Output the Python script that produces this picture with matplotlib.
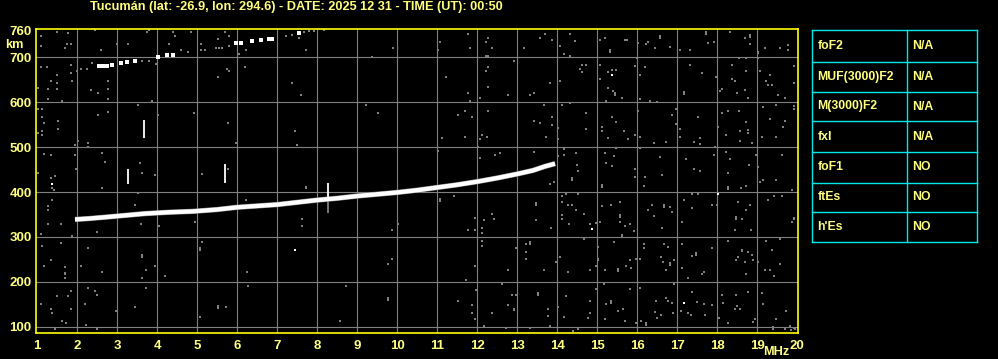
import matplotlib
matplotlib.use("Agg")
import matplotlib.pyplot as plt
import numpy as np

# ---------------- data ----------------
title = "Tucumán (lat: -26.9, lon: 294.6) - DATE: 2025 12 31 - TIME (UT): 00:50"
x_ticks = list(range(1, 21))
y_ticks = [100, 200, 300, 400, 500, 600, 700, 760]

# main F-layer trace (MHz, km)
trace_f = [1.95, 2.3, 2.7, 3.2, 3.7, 4.3, 4.9, 5.5, 6.0, 6.5, 7.0, 7.5, 8.0, 8.5,
           9.0, 9.5, 10.0, 10.5, 11.0, 11.5, 12.0, 12.5, 13.0, 13.4, 13.7, 13.95]
trace_km = [339, 341, 344, 348, 352, 355, 357, 361, 366, 369, 372, 377, 382, 386,
            391, 395, 399, 404, 410, 416, 423, 431, 440, 448, 457, 463]

# second-hop trace (MHz, km)
hop2_f = [2.55, 2.65, 2.75, 2.88, 3.1, 3.25, 3.45, 4.02, 4.25, 4.4, 5.98, 6.1,
          6.38, 6.6, 6.8, 6.88, 7.55]
hop2_km = [679, 679, 680, 683, 687, 689, 691, 699, 705, 705, 731, 732, 736, 738,
           741, 741, 753]

# vertical white streaks: freq, km_low, km_high
streak_f = [3.28, 3.68, 5.69, 8.28]
streak_lo = [417, 521, 421, 385]
streak_hi = [452, 560, 462, 419]
# gray tail of streak at 8.28
gtail_f = [8.28]
gtail_lo = [354]
gtail_hi = [385]

# isolated white echoes
white_f = [7.44, 14.88, 18.02, 17.17, 15.38, 1.38]
white_km = [270, 318, 395, 154, 660, 418]

# gray noise echoes (MHz, km)
noise = [
 (1.09,747),(1.49,756),(1.78,753),(1.09,725),(1.74,729),(1.84,729),(1.69,720),(2.45,761),
 (2.59,716),(2.99,729),(3.28,729),(3.74,756),(3.80,761),(4.40,756),(4.45,747),(4.84,756),
 (4.30,729),(4.59,716),(4.78,712),(5.09,729),(5.09,716),(5.20,716),(5.53,741),(5.69,756),
 (5.80,747),(5.47,721),(5.55,721),(5.63,721),(5.80,725),(6.05,706),(6.23,716),(7.22,747),(7.38,749),
 (7.55,743),(7.73,716),(7.67,755),(7.80,758),(7.92,758),(8.17,761),(9.38,701),(9.90,721),
 (1.09,678),(1.26,678),(1.84,683),(2.01,669),(2.09,673),(2.24,673),(2.38,686),(1.49,661),
 (1.84,664),(1.34,646),(1.49,642),(1.88,646),(1.03,631),(1.28,629),(1.49,629),(2.34,627),
 (2.53,620),(2.78,646),(2.78,629),(2.78,606),(1.28,606),(1.63,603),(3.88,603),(3.97,684),
 (3.63,692),(3.80,692),(5.76,673),(5.80,668),(6.19,678),(5.53,655),(7.38,642),(7.59,615),
 (1.03,584),(1.13,584),(1.13,566),(1.18,553),(1.53,558),(1.53,540),(1.13,536),(1.13,526),
 (1.03,532),(2.53,571),(2.78,578),(3.53,593),(4.03,571),(4.93,575),(5.78,553),(7.44,535),
 (7.49,504),(9.23,593),(9.53,575),(2.03,513),(2.28,509),(2.28,500),(1.94,504),(5.98,509),
 (1.18,484),(1.34,482),(1.94,482),(2.63,486),(2.69,467),(1.98,451),(3.57,464),(3.63,442),
 (3.94,438),(5.13,440),(5.78,451),(1.03,442),(1.34,432),(1.44,435),
 (11.07,734),(11.02,716),(11.77,751),(11.83,720),(12.23,734),(12.27,742),(12.38,720),
 (12.23,703),(12.27,703),(13.18,720),(13.58,742),(13.69,751),(13.87,738),(14.08,725),
 (14.33,751),(14.44,736),(14.18,706),(14.32,703),(15.08,738),(15.19,742),(15.69,738),(15.74,738),
 (15.33,716),(15.33,712),(16.03,731),(16.23,729),(16.27,734),(16.58,746),(16.58,742),(16.44,720),(16.83,723),
 (17.08,716),(17.33,716),(17.73,751),(17.73,755),(17.77,731),(17.92,734),(18.33,756),(18.69,742),
 (18.83,749),(18.83,745),(18.83,729),(19.02,712),(19.02,708),(19.19,720),(19.58,720),(19.77,727),(19.77,716),
 (11.23,656),(12.23,669),(12.27,678),(12.92,692),(12.27,634),(11.77,621),(11.83,599),(11.83,603),
 (12.08,609),(12.78,616),(13.33,616),(13.42,621),(13.83,643),(14.08,647),(14.58,673),
 (14.62,667),(14.73,683),(14.62,683),(15.08,683),(15.08,651),(15.28,666),(15.38,672),
 (15.48,672),(15.28,632),(15.40,625),(15.44,616),(15.44,620),(15.62,609),(15.23,603),(15.94,681),
 (16.08,661),(16.19,678),(16.00,697),(16.08,606),(16.32,603),(16.50,599),(17.17,618),(17.17,622),
 (17.33,683),(17.62,664),(17.97,656),(18.08,625),(18.13,629),(18.38,683),(18.38,651),
 (18.44,647),(18.50,621),(18.55,697),(18.69,627),(18.73,669),(18.73,697),(18.78,610),
 (19.08,669),(19.22,647),(19.33,660),(19.28,638),(19.38,638),(19.52,616),(19.69,610),
 (19.92,681),(19.92,643),(19.02,697),
 (11.69,581),(11.52,572),(11.88,567),(12.27,581),(11.13,520),(11.69,523),(12.08,518),
 (12.13,527),(12.24,523),(12.02,501),(13.42,558),(13.58,553),(13.73,523),(13.87,567),
 (13.87,549),(14.02,542),(14.02,518),(13.68,594),(14.13,594),(14.33,598),(14.73,575),
 (14.73,540),(15.13,545),(15.13,536),(15.28,519),(15.48,556),(15.68,536),(15.78,518),
 (15.38,567),(15.94,527),(16.03,581),(16.08,523),(16.42,509),(16.73,512),(16.98,584),
 (16.88,572),(16.98,552),(17.08,540),(17.08,523),(17.42,512),(17.52,566),(17.58,520),
 (17.58,506),(18.03,545),(18.13,575),(18.23,527),(18.27,581),(18.54,581),(18.58,535),
 (18.58,514),(18.73,555),(18.78,538),(18.78,531),(18.88,510),(19.13,523),(19.48,523),
 (19.15,588),(19.33,562),(19.48,594),(19.65,545),(19.69,558),(19.92,592),(19.92,584),
 (11.02,492),(12.08,475),(12.44,483),(12.57,486),(13.42,490),(14.02,481),(14.18,483),
 (14.17,495),(14.48,486),(14.37,432),(14.53,447),(14.49,460),(15.19,486),(15.23,464),
 (15.38,458),(15.42,481),(15.48,498),(15.94,451),(15.94,434),(16.08,497),(16.19,434),
 (16.58,478),(16.62,438),(17.23,474),(17.42,451),(17.58,447),(17.92,483),(17.96,501),
 (18.23,490),(18.33,474),(18.27,443),(18.98,483),(19.02,456),(18.80,461),(19.63,483),
 (19.48,427),(19.15,427),
 (1.38,409),(1.43,404),(1.28,369),(1.28,360),(1.38,382),(1.59,328),(1.28,329),(1.09,307),
 (1.88,302),(2.49,311),(2.63,409),(3.53,398),(3.44,372),(3.60,329),(4.05,324),(4.95,333),
 (6.23,382),(7.63,341),(7.63,324),(9.88,315),(10.03,328),(7.73,412),(7.73,408),(1.13,280),(1.59,287),
 (2.28,275),(1.34,249),(1.18,235),(1.70,234),(1.69,221),(1.69,217),(1.70,209),(2.09,235),(2.63,222),
 (3.63,259),(3.63,255),(3.73,227),(3.63,209),(3.94,235),(4.19,213),(5.13,289),(5.08,276),(5.08,272),(6.24,222),
 (9.88,252),(9.78,239),(1.09,152),(1.34,139),(1.38,130),(1.49,169),(1.78,169),(1.84,181),
 (1.84,139),(2.19,152),(2.28,186),(2.44,181),(2.49,172),(2.98,135),(3.44,144),(3.73,186),
 (1.63,113),(1.73,108),(1.44,95),(2.23,104),(2.49,95),(5.53,147),(5.53,143),(5.73,144),(6.28,191),
 (5.08,122),(8.58,113),(8.73,191),(9.78,161),(9.78,165),
 (11.07,384),(11.07,380),(11.42,391),(11.97,422),(12.17,422),(13.92,422),(13.83,418),(14.38,426),
 (15.12,412),(15.12,416),(16.18,413),(18.28,407),(18.28,411),(18.61,409),(18.73,413),(19.07,422),(19.88,404),
 (11.78,315),(11.94,315),(12.13,319),(12.13,309),(12.17,338),(12.38,350),(12.42,341),
 (11.94,342),(13.48,375),(13.48,371),(13.48,338),(13.86,319),(14.12,391),(14.12,378),(14.12,348),
 (14.12,339),(14.23,395),(14.27,372),(14.38,372),(14.52,395),(14.48,359),(14.29,329),
 (14.68,350),(14.82,329),(14.98,332),(15.08,333),(15.12,369),(15.34,372),(15.58,378),
 (15.58,349),(15.58,345),(15.58,333),(15.69,324),(15.82,328),(15.92,313),(15.62,304),(15.62,300),(14.68,295),
 (16.28,360),(16.38,372),(16.42,347),(16.68,370),(16.68,366),(16.83,367),(16.88,355),(16.63,319),
 (17.13,333),(17.17,382),(17.38,395),(17.38,364),(17.52,395),(17.87,372),(18.01,372),
 (18.44,315),(18.48,344),(18.48,340),(18.52,378),(18.62,341),(18.73,359),(18.83,372),(18.84,315),
 (19.28,382),(19.42,391),(19.63,391),(19.92,343),(19.92,339),(19.88,333),
 (11.94,235),(12.13,292),(12.13,280),(12.78,226),(12.97,275),(13.23,284),(13.23,267),
 (13.23,252),(13.33,289),(13.33,285),(13.68,227),(13.97,244),(14.08,256),(14.27,222),(14.83,227),
 (15.02,278),(15.02,252),(15.02,248),(14.98,235),(15.19,227),(15.43,289),(15.52,228),(15.52,224),(15.73,235),
 (15.82,248),(15.84,232),(15.98,250),(16.08,252),(16.18,284),(16.18,275),(16.59,256),
 (16.65,244),(16.68,284),(16.73,227),(16.78,278),(16.83,238),(16.83,242),(16.93,249),(17.13,284),
 (17.13,230),(17.28,208),(17.38,258),(17.48,264),(17.48,260),(17.63,217),(17.68,222),(17.87,275),
 (18.28,292),(18.48,248),(18.52,256),(18.62,272),(18.62,268),(18.69,244),(18.73,217),(18.78,267),
 (18.88,261),(18.90,248),(19.02,244),(19.19,227),(19.33,227),(19.38,270),(19.42,213),
 (19.58,239),(19.23,292),(19.57,296),(11.72,204),
 (11.52,158),(11.88,148),(11.88,130),(11.97,182),(11.94,117),(12.17,102),(12.38,130),
 (12.63,195),(12.78,149),(12.88,172),(12.97,172),(12.92,141),(12.92,137),(12.73,97),(13.33,98),
 (13.52,176),(13.52,172),(13.77,141),(13.77,124),(13.82,102),(14.02,144),(14.18,122),(14.23,169),
 (14.40,92),(14.52,95),(14.82,158),(14.83,132),(14.77,121),(14.98,184),(15.17,196),
 (15.19,117),(15.34,158),(15.34,154),(15.23,152),(15.52,135),(15.66,141),(15.69,113),(15.82,184),
 (15.98,108),(16.07,186),(16.11,113),(16.23,109),(16.23,104),(16.44,134),(16.48,158),(16.51,121),
 (16.59,126),(16.72,165),(16.78,158),(16.88,154),(16.93,196),(16.90,132),(17.09,135),
 (17.28,132),(17.36,126),(17.38,178),(17.51,156),(17.68,152),(17.69,126),(17.88,149),
 (18.05,121),(18.13,171),(18.15,154),(18.28,108),(18.44,139),(18.48,172),(18.51,147),
 (18.58,139),(18.78,178),(18.94,117),(19.12,176),(19.15,152),(19.48,117),(19.73,135),
 (19.82,102),(19.86,93),(19.92,98),(18.90,112),(19.40,95),(19.40,99),(19.70,95),(19.95,95),
]
noise_f = [p[0] for p in noise]
noise_km = [p[1] for p in noise]

table_labels = ["foF2", "MUF(3000)F2", "M(3000)F2", "fxI", "foF1", "ftEs", "h'Es"]
table_values = ["N/A", "N/A", "N/A", "N/A", "NO", "NO", "NO"]

# ---------------- style ----------------
W, H = 998, 359
BG = "black"
YEL_TXT = "#ffff80"
YEL_FRAME = "#ffff00"
GRAY = "#808080"
CYAN = "#00e8e8"
FONT = "Liberation Sans"

fig = plt.figure(figsize=(W / 100, H / 100), dpi=100, facecolor=BG)

L, R, T, B = 35.7, 798.3, 29.3, 332.7
ax = fig.add_axes([L / W, (H - B) / H, (R - L) / W, (B - T) / H])
ax.set_facecolor(BG)
ax.set_xlim(0.9675, 20.03)
ax.set_ylim(87.3, 761.6)

# grid
for f in range(2, 20):
    ax.axvline(f, color=GRAY, lw=0.8, zorder=1)
for k in range(100, 701, 100):
    ax.axhline(k, color=GRAY, lw=0.8, zorder=1)

# noise
ax.plot(noise_f, noise_km, ls="none", marker="s", ms=1.8, mew=0,
        color=GRAY, zorder=2)

# streaks
ax.vlines(gtail_f, gtail_lo, gtail_hi, color=GRAY, lw=1.3, zorder=3)
ax.vlines(streak_f, streak_lo, streak_hi, color="white", lw=1.3, zorder=4)

# main trace
ax.plot(trace_f, trace_km, color=GRAY, lw=3.8, zorder=3, solid_capstyle="butt")
ax.plot(trace_f, trace_km, color="white", lw=3.1, zorder=4, solid_capstyle="butt")

# second hop
ax.plot(hop2_f, hop2_km, ls="none", marker="s", ms=2.4, mew=0, color="white", zorder=4)

# isolated white echoes
ax.plot(white_f, white_km, ls="none", marker="s", ms=1.8, mew=0, color="white", zorder=4)

# ticks
ax.set_xticks(x_ticks)
ax.set_xticklabels([str(v) for v in x_ticks])
ax.set_yticks(y_ticks)
ax.set_yticklabels([str(v) for v in y_ticks])
ax.tick_params(length=0, colors=YEL_TXT, labelsize=9.5)
ax.tick_params(axis="x", pad=5)
ax.tick_params(axis="y", pad=3)
for lab in ax.get_xticklabels() + ax.get_yticklabels():
    lab.set_fontweight("bold")
    lab.set_fontfamily(FONT)
for s in ax.spines.values():
    s.set_color(YEL_FRAME)
    s.set_linewidth(1.2)

# overlay in pixel coordinates for layout items
lay = fig.add_axes([0, 0, 1, 1], facecolor="none")
lay.set_xlim(0, W)
lay.set_ylim(H, 0)
lay.axis("off")

lay.text(296, 7, title, color=YEL_TXT, fontsize=9.2, fontweight="bold",
         family=FONT, ha="center", va="center")
lay.text(14, 45, "km", color=YEL_TXT, fontsize=9.2, fontweight="bold",
         family=FONT, ha="center", va="center")
lay.text(789, 352, "MHz", color=YEL_TXT, fontsize=9.2, fontweight="bold",
         family=FONT, ha="right", va="center")

# table
tx0, tx1, tx2 = 812.3, 907.3, 977.3
row_y = [30.3, 61.7, 91.7, 121.3, 151.7, 182.7, 212.3, 242.3]
for yy in row_y:
    lay.plot([tx0, tx2], [yy, yy], color=CYAN, lw=1.0)
for xx in (tx0, tx1, tx2):
    lay.plot([xx, xx], [row_y[0], row_y[-1]], color=CYAN, lw=1.0)
for i, (lab, val) in enumerate(zip(table_labels, table_values)):
    yc = (row_y[i] + row_y[i + 1]) / 2
    lay.text(tx0 + 5, yc, lab, color=YEL_TXT, fontsize=8.8, fontweight="bold",
             family=FONT, ha="left", va="center")
    lay.text(tx1 + 5, yc, val, color=YEL_TXT, fontsize=8.8, fontweight="bold",
             family=FONT, ha="left", va="center")

fig.savefig("out.png", dpi=100, facecolor=BG)
